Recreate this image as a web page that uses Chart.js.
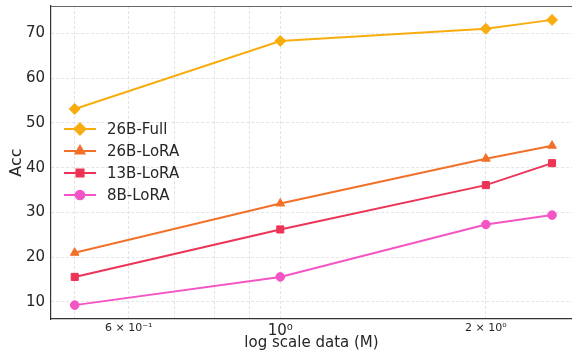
<!DOCTYPE html>
<html>
<head>
<meta charset="utf-8">
<script src="https://cdn.jsdelivr.net/npm/chart.js@4.4.0/dist/chart.umd.min.js"></script>
<style>
  html, body { margin: 0; padding: 0; background: #fff; }
  #wrap { width: 572px; height: 352px; }
</style>
</head>
<body>
<div id="wrap"><canvas id="acc-chart"></canvas></div>
<script>
// Data
var dataSizes = [0.5, 1, 2, 2.5];
var seriesNames = ['26B-Full', '26B-LoRA', '13B-LoRA', '8B-LoRA'];
var full26 = [53.1, 68.3, 71.0, 73.0];
var lora26 = [21.0, 32.0, 42.0, 44.9];
var lora13 = [15.6, 26.2, 36.1, 41.0];
var lora8 = [9.3, 15.6, 27.3, 29.4];
var xGridTicks = [0.5, 0.6, 0.7, 0.8, 0.9, 1, 2];
var xTickLabels = { '0.6': '6 \u00d7 10\u207b\u00b9', '1': '10\u2070', '2': '2 \u00d7 10\u2070' };
var yTicks = [10, 20, 30, 40, 50, 60, 70];

var colors = ['#f8ad0f', '#f1712a', '#ec3457', '#f455c4'];
var markers = ['rectRot', 'triangle', 'rect', 'circle'];
var radii = [5.5, 5, 5, 4.3];

function pts(vals) {
    return vals.map(function (v, i) { return { x: dataSizes[i], y: v }; });
}

var allSeries = [full26, lora26, lora13, lora8];
var datasets = allSeries.map(function (vals, i) {
    return {
        label: seriesNames[i],
        data: pts(vals),
        borderColor: colors[i],
        backgroundColor: colors[i],
        borderWidth: 2,
        pointStyle: markers[i],
        pointRadius: radii[i],
        pointHoverRadius: radii[i],
        pointBorderWidth: 1,
        tension: 0
    };
});

// top spine + legend drawn inside the plot
var extras = {
    id: 'extras',
    afterDraw: function (chart) {
        var ctx = chart.ctx, a = chart.chartArea;
        ctx.save();
        ctx.strokeStyle = '#666';
        ctx.lineWidth = 1.2;
        ctx.beginPath();
        ctx.moveTo(a.left, a.top + 0.5);
        ctx.lineTo(a.right, a.top + 0.5);
        ctx.stroke();

        chart.data.datasets.forEach(function (ds, i) {
            var y = a.top + 123 + i * 22;
            var x0 = a.left + 13, x1 = x0 + 32;
            ctx.strokeStyle = ds.borderColor;
            ctx.fillStyle = ds.backgroundColor;
            ctx.lineWidth = 2;
            ctx.beginPath();
            ctx.moveTo(x0, y);
            ctx.lineTo(x1, y);
            ctx.stroke();
            Chart.helpers.drawPoint(ctx, { pointStyle: ds.pointStyle, radius: ds.pointRadius, borderWidth: 1 }, (x0 + x1) / 2, y);
            ctx.fillStyle = '#262626';
            ctx.font = '15px "DejaVu Sans"';
            ctx.textBaseline = 'middle';
            ctx.textAlign = 'left';
            ctx.fillText(ds.label, x1 + 11, y + 1);
        });
        ctx.restore();
    }
};

function noPad(scale) {
    scale.paddingTop = 0;
    scale.paddingBottom = 0;
    scale.paddingLeft = 0;
    scale.paddingRight = 0;
}

var ctx = document.getElementById('acc-chart');

var chartOptions = {
    responsive: true,
    maintainAspectRatio: false,
    animation: false,
    layout: { autoPadding: false, padding: { top: 6, right: 0, left: 0, bottom: 0 } },
    plugins: {
        legend: { display: false },
        tooltip: { enabled: false }
    },
    scales: {
        x: {
            type: 'logarithmic',
            min: 0.4616,
            max: 2.674,
            afterBuildTicks: function (scale) {
                scale.ticks = xGridTicks.map(function (v) { return { value: v }; });
            },
            afterFit: function (scale) { scale.height = 33; noPad(scale); },
            grid: { color: '#dddddd', lineWidth: 0.8, drawTicks: false },
            border: { color: '#333', width: 1.2, dash: [3, 2] },
            ticks: {
                autoSkip: false,
                maxRotation: 0,
                padding: 3,
                color: '#262626',
                font: function (c) {
                    var big = c.tick && c.tick.value === 1;
                    return { family: 'DejaVu Sans', size: big ? 15 : 11 };
                },
                callback: function (v) { return xTickLabels[String(v)] || ''; }
            },
            title: {
                display: true,
                text: 'log scale data (M)',
                color: '#262626',
                font: { family: 'DejaVu Sans', size: 15 },
                padding: { top: 0, bottom: 0 }
            }
        },
        y: {
            min: 6.2,
            max: 76.1,
            afterBuildTicks: function (scale) {
                scale.ticks = yTicks.map(function (v) { return { value: v }; });
            },
            afterFit: function (scale) { scale.width = 51; noPad(scale); },
            grid: { color: '#dddddd', lineWidth: 0.8, drawTicks: false },
            border: { color: '#333', width: 1.2, dash: [3, 2] },
            ticks: {
                padding: 6,
                color: '#262626',
                font: { family: 'DejaVu Sans', size: 15 }
            },
            title: {
                display: true,
                text: 'Acc',
                color: '#262626',
                font: { family: 'DejaVu Sans', size: 16 },
                padding: { top: 7, bottom: 0 }
            }
        }
    }
};

var config = {
    type: 'line',
    data: { datasets: datasets },
    options: chartOptions,
    plugins: [extras]
};

var accChart = new Chart(ctx, config);
</script>
</body>
</html>
